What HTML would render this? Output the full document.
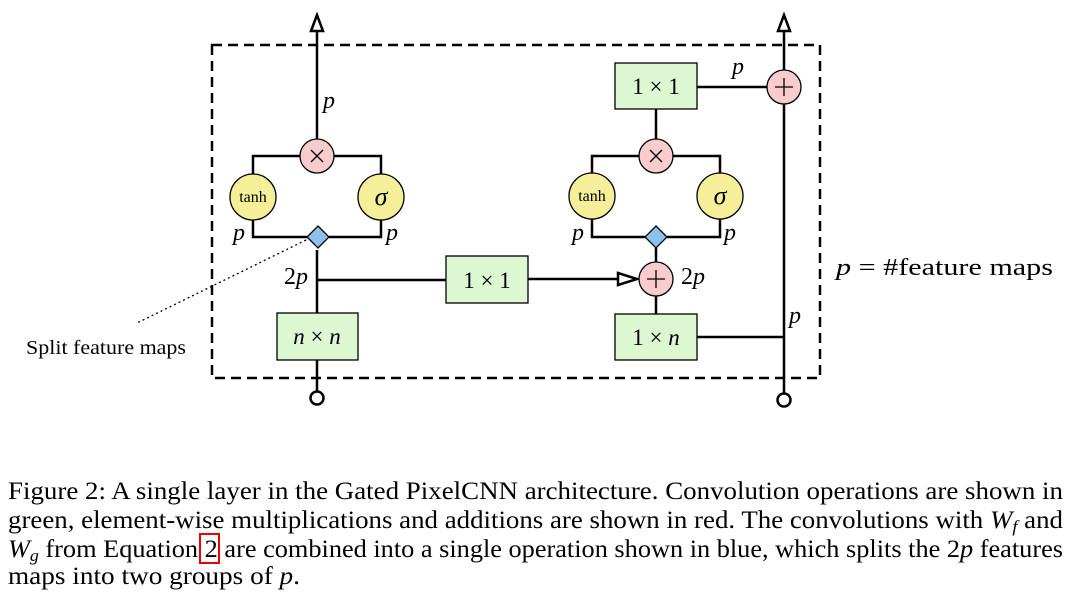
<!DOCTYPE html>
<html><head><style>body{margin:0;background:#fff}svg{display:block}</style></head><body>
<svg width="1071" height="594" viewBox="0 0 1071 594" xmlns="http://www.w3.org/2000/svg" font-family="Liberation Serif, serif">
<rect x="212" y="45" width="608" height="333" fill="none" stroke="#000" stroke-width="2.5" stroke-dasharray="10,6"/>
<g stroke="#000" stroke-width="2.5" fill="none">
<line x1="317" y1="30" x2="317" y2="139"/>
<line x1="317" y1="250" x2="317" y2="391"/>
<polyline points="253,174 253,156 300,156"/><polyline points="334,156 381,156 381,174"/>
<polyline points="253,220 253,237 307,237"/><polyline points="329,237 381,237 381,220"/>
<line x1="317" y1="280" x2="446" y2="280"/><line x1="528" y1="279" x2="618" y2="279"/>
<line x1="656" y1="109" x2="656" y2="139"/>
<polyline points="592,173 592,156 639,156"/><polyline points="673,156 720,156 720,173"/>
<polyline points="592,219 592,237 645,237"/><polyline points="667,237 720,237 720,219"/>
<line x1="656" y1="248" x2="656" y2="262"/><line x1="656" y1="296" x2="656" y2="314"/>
<line x1="697" y1="87" x2="767" y2="87"/>
<line x1="784" y1="30" x2="784" y2="393"/>
<line x1="697" y1="337" x2="784" y2="337"/>
</g>
<g fill="#fff" stroke="#000" stroke-width="2.5">
<polygon points="317,15 311,31 323,31"/><polygon points="784,15 778,31 790,31"/>
<polygon points="637,279 618,273 618,285"/>
<circle cx="317" cy="398" r="6.5"/><circle cx="784" cy="400" r="6.5"/>
</g>
<g stroke="#000" stroke-width="1.3">
<circle cx="317" cy="156" r="17" fill="#f8cccc"/><circle cx="656" cy="156" r="17" fill="#f8cccc"/>
<circle cx="656" cy="279" r="17" fill="#f8cccc"/><circle cx="784" cy="87" r="17" fill="#f8cccc"/>
<circle cx="253" cy="197" r="23" fill="#f5ef9a"/><circle cx="381" cy="197" r="23" fill="#f5ef9a"/>
<circle cx="592" cy="196" r="23" fill="#f5ef9a"/><circle cx="720" cy="196" r="23" fill="#f5ef9a"/>
<polygon points="318,226 329,237 318,248 307,237" fill="#8ec0ee"/>
<polygon points="656,226 667,237 656,248 645,237" fill="#8ec0ee"/>
<rect x="446" y="256" width="82" height="47" fill="#ddf7d2"/>
<rect x="277" y="313" width="81" height="47" fill="#ddf7d2"/>
<rect x="615" y="63" width="82" height="46" fill="#ddf7d2"/>
<rect x="615" y="314" width="82" height="46" fill="#ddf7d2"/>
</g>
<g stroke="#000" stroke-width="1.3">
<path d="M311,150 L323,162 M323,150 L311,162"/><path d="M650,150 L662,162 M662,150 L650,162"/>
<path d="M647,279 L665,279 M656,270 L656,288"/><path d="M775,87 L793,87 M784,78 L784,96"/>
</g>
<line x1="306" y1="240" x2="137" y2="323" stroke="#000" stroke-width="1.3" stroke-dasharray="2,3"/>
<g font-size="23" text-anchor="middle">
<text x="487" y="288">1 × 1</text><text x="317" y="344" font-style="italic">n <tspan font-style="normal">×</tspan> n</text>
<text x="656" y="94">1 × 1</text><text x="656" y="345">1 × <tspan font-style="italic">n</tspan></text>
<text x="381" y="205" font-style="italic" font-size="26">σ</text><text x="720" y="204" font-style="italic" font-size="26">σ</text>
<text x="253" y="202" font-size="16">tanh</text><text x="592" y="201" font-size="16">tanh</text>
</g>
<g font-size="24" font-style="italic">
<text x="323" y="108">p</text><text x="233" y="240">p</text><text x="386" y="240">p</text>
<text x="284" y="284"><tspan font-style="normal">2</tspan>p</text>
<text x="572" y="240">p</text><text x="724" y="240">p</text>
<text x="681" y="284"><tspan font-style="normal">2</tspan>p</text>
<text x="732" y="74">p</text><text x="789" y="323">p</text>
<text x="836" y="275" textLength="217" lengthAdjust="spacingAndGlyphs">p <tspan font-style="normal">= #feature maps</tspan></text>
</g>
<text x="26" y="354" font-size="20" textLength="160" lengthAdjust="spacingAndGlyphs">Split feature maps</text>
<g font-size="25">
<text x="8" y="499" textLength="1055" lengthAdjust="spacingAndGlyphs">Figure 2: A single layer in the Gated PixelCNN architecture. Convolution operations are shown in</text>
<text x="8" y="528" textLength="1055" lengthAdjust="spacingAndGlyphs">green, element-wise multiplications and additions are shown in red. The convolutions with <tspan font-style="italic">W<tspan font-size="17" dy="4">f</tspan></tspan><tspan dy="-4"> and</tspan></text>
<text x="8" y="557" textLength="1055" lengthAdjust="spacingAndGlyphs"><tspan font-style="italic">W<tspan font-size="17" dy="4">g</tspan></tspan><tspan dy="-4"> from Equation 2 are combined into a single operation shown in blue, which splits the 2</tspan><tspan font-style="italic">p</tspan> features</text>
<text x="8" y="584" textLength="292" lengthAdjust="spacingAndGlyphs">maps into two groups of <tspan font-style="italic">p</tspan>.</text>
</g>
<rect x="200" y="534" width="19" height="29" fill="none" stroke="#e00" stroke-width="2"/>
</svg>
</body></html>
